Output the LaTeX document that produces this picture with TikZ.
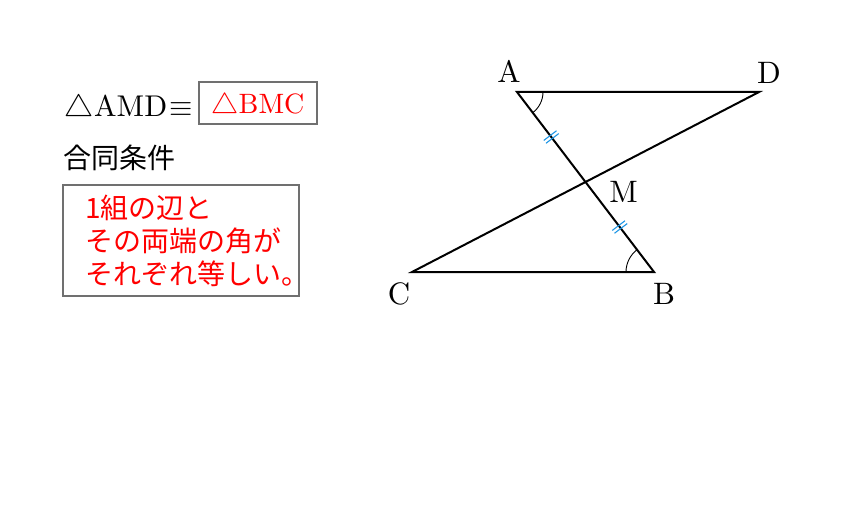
\documentclass[tikz,border=0pt]{standalone}
\usepackage{fontspec}
\setmainfont{lmroman10-regular.otf}
\newfontfamily\jpfont{Noto Sans CJK JP}
\newfontfamily\lmsym{Latin Modern Math}
\usetikzlibrary{angles,calc}
\definecolor{boxgray}{HTML}{707070}
\definecolor{tickblue}{HTML}{1E96E6}
\tikzset{
  seg/.style={line width=2pt, black},
  gbox/.style={draw=boxgray, line width=1.6pt, inner sep=0pt},
  lbl/.style={inner sep=0pt, font=\fontsize{28}{33}\selectfont},
  ptlbl/.style={inner sep=0pt, font=\fontsize{31}{36}\selectfont},
  angmark/.style={draw, line width=0.9pt, angle radius=#1},
  tickline/.style={draw=tickblue, line width=1.1pt}
}
\begin{document}
\begin{tikzpicture}[x=1pt,y=1pt]
\useasboundingbox[fill=white] (0,0) rectangle (850,507);
% left texts
\node[gbox, minimum width=118pt, minimum height=42pt] (eqbox) at (258,404) {};
\node[lbl, text=red] (bmc) at (eqbox.center) {{\lmsym △}BMC};
\node[lbl, font=\fontsize{30}{33}\selectfont, anchor=west] (amd) at (64,402) {{\lmsym △}\kern1ptAMD\kern2pt{\lmsym ≡}};
\node[lbl, anchor=west] (cond) at (63,349) {\jpfont 合同条件};
\node[gbox, minimum width=236pt, minimum height=111pt] (condbox) at (181,266.5) {};
\node[lbl, anchor=west, align=left, text=red] (condtext) at (85,266) {\jpfont 1組の辺と\\\jpfont その両端の角が\\\jpfont それぞれ等しい。};
% figure
\coordinate (A) at (517,415);
\coordinate (D) at (759,415);
\coordinate (B) at (654,235);
\coordinate (C) at (412,235);
\coordinate (M) at ($(A)!0.5!(B)$);
\draw[seg] (A) -- (D) -- (C) -- (B) -- cycle;
\pic[angmark=26pt] {angle=B--A--D};
\pic[angmark=28pt] {angle=A--B--C};
\coordinate (T1) at ($(A)!0.5!(M)$);
\coordinate (T2) at ($(M)!0.5!(B)$);
\begin{scope}[shift={(T1)}, rotate=-52.7]
  \draw[tickline] (-1.8,-8) -- (-1.8,8);
  \draw[tickline] (1.8,-8) -- (1.8,8);
\end{scope}
\begin{scope}[shift={(T2)}, rotate=-52.7]
  \draw[tickline] (-1.8,-8) -- (-1.8,8);
  \draw[tickline] (1.8,-8) -- (1.8,8);
\end{scope}
\node[ptlbl] (lA) at (509,436) {A};
\node[ptlbl] (lD) at (769,434) {D};
\node[ptlbl] (lM) at (623.5,315.5) {M};
\node[ptlbl] (lC) at (399,213) {C};
\node[ptlbl] (lB) at (664,213.5) {B};
\end{tikzpicture}
\end{document}
